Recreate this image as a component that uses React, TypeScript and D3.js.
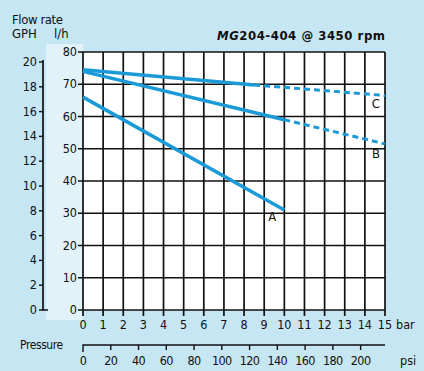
import * as d3 from 'd3'

const BAR_TICKS = [0, 1, 2, 3, 4, 5, 6, 7, 8, 9, 10, 11, 12, 13, 14, 15]
const FLOW_TICKS = [0, 10, 20, 30, 40, 50, 60, 70, 80]
const GPH_TICKS = [0, 2, 4, 6, 8, 10, 12, 14, 16, 18, 20]
const PSI_TICKS = [0, 20, 40, 60, 80, 100, 120, 140, 160, 180, 200]

// [bar, l/h]
const CURVE_A: [number, number][] = [[0, 66], [10, 31]]
const CURVE_B_SOLID: [number, number][] = [[0, 74], [10, 59]]
const CURVE_B_DASH: [number, number][] = [[10, 59], [15, 51.5]]
const CURVE_C_SOLID: [number, number][] = [[0, 74.5], [8.5, 69.8]]
const CURVE_C_DASH: [number, number][] = [[8.5, 69.8], [15, 66.5]]

const LABELS = [
  { name: 'A', at: [9.4, 27.5] },
  { name: 'B', at: [14.55, 47] },
  { name: 'C', at: [14.55, 62.5] },
]

const FONT = "'Liberation Sans Narrow', 'DejaVu Sans Condensed', 'DejaVu Sans', sans-serif"
const BLUE = '#1b9ad8'
const INK = '#111'

function App() {
  const x = d3.scaleLinear().domain([0, 15]).range([83, 385])
  const y = d3.scaleLinear().domain([0, 80]).range([310, 52])
  const gph = d3.scaleLinear().domain([0, 20]).range([310, 62])
  const psi = d3.scaleLinear().domain([0, 15 * 14.5038]).range([83, 385])

  const line = d3
    .line<[number, number]>()
    .x((d) => x(d[0]))
    .y((d) => y(d[1]))

  const [x0, x1] = x.range()
  const [yb, yt] = y.range()

  return (
    <svg
      width={424}
      height={371}
      style={{ position: 'absolute', left: 0, top: 0 }}
      fontFamily={FONT}
    >
      <rect width={424} height={371} fill="#c6e6f3" />
      <rect x={46} y={44} width={37} height={276} fill="#e1f2f9" />
      <rect x={x0} y={yt} width={x1 - x0} height={yb - yt} fill="#ffffff" />

      {/* header */}
      <text x={12} y={24} fontSize={13} fill={INK} letterSpacing={-0.4}>
        Flow rate
      </text>
      <text x={12} y={38} fontSize={13} fill={INK}>
        GPH
      </text>
      <text x={54} y={38} fontSize={13} fill={INK}>
        l/h
      </text>
      <text x={217} y={40} fontSize={13} fontWeight="bold" fill={INK} textLength={168} lengthAdjust="spacing">
        <tspan fontStyle="italic">MG</tspan>204-404 @ 3450 rpm
      </text>

      {/* grid */}
      {BAR_TICKS.map((t) => (
        <line key={'gx' + t} x1={x(t)} x2={x(t)} y1={yt} y2={yb + 6} stroke={INK} strokeWidth={1.7} />
      ))}
      {FLOW_TICKS.map((t) => (
        <line key={'gy' + t} x1={x0 - 5} x2={x1} y1={y(t)} y2={y(t)} stroke={INK} strokeWidth={1.7} />
      ))}

      {/* l/h labels */}
      {FLOW_TICKS.map((t) => (
        <text key={'ly' + t} x={x0 - 6} y={y(t) + 4} fontSize={12.5} textAnchor="end" fill={INK}>
          {t}
        </text>
      ))}

      {/* GPH axis */}
      <path d={`M43,${gph(20) - 2}V${gph(0)}H48`} fill="none" stroke={INK} strokeWidth={1.7} />
      {GPH_TICKS.map((t) => (
        <g key={'gph' + t}>
          <line x1={39} x2={43} y1={gph(t)} y2={gph(t)} stroke={INK} strokeWidth={1.4} />
          <text x={37} y={gph(t) + 4} fontSize={12.5} textAnchor="end" fill={INK}>
            {t}
          </text>
        </g>
      ))}

      {/* bar labels */}
      {BAR_TICKS.map((t) => (
        <text key={'bx' + t} x={x(t)} y={329} fontSize={12.5} textAnchor="middle" fill={INK}>
          {t}
        </text>
      ))}
      <text x={396} y={329} fontSize={12.5} fill={INK}>
        bar
      </text>

      {/* psi axis */}
      <path d={`M${psi(0)},352V345H${x1}`} fill="none" stroke={INK} strokeWidth={1.4} />
      {PSI_TICKS.slice(1).map((t) => (
        <line key={'pt' + t} x1={psi(t)} x2={psi(t)} y1={345} y2={350} stroke={INK} strokeWidth={1.4} />
      ))}
      {PSI_TICKS.map((t) => (
        <text key={'pl' + t} x={psi(t)} y={365} fontSize={12.5} textAnchor="middle" fill={INK} letterSpacing={-0.6}>
          {t}
        </text>
      ))}
      <text x={20} y={349} fontSize={12} fill={INK} letterSpacing={-0.4}>
        Pressure
      </text>
      <text x={400} y={365} fontSize={12.5} fill={INK}>
        psi
      </text>

      {/* curves */}
      <path d={line(CURVE_A) ?? ''} fill="none" stroke={BLUE} strokeWidth={3.5} />
      <path d={line(CURVE_B_SOLID) ?? ''} fill="none" stroke={BLUE} strokeWidth={3.5} />
      <path d={line(CURVE_C_SOLID) ?? ''} fill="none" stroke={BLUE} strokeWidth={3.5} />
      <path d={line(CURVE_B_DASH) ?? ''} fill="none" stroke={BLUE} strokeWidth={3} strokeDasharray="6,4" />
      <path d={line(CURVE_C_DASH) ?? ''} fill="none" stroke={BLUE} strokeWidth={3} strokeDasharray="6,4" />

      {LABELS.map((l) => (
        <text key={l.name} x={x(l.at[0])} y={y(l.at[1])} fontSize={13} textAnchor="middle" fill={INK}>
          {l.name}
        </text>
      ))}
    </svg>
  )
}

export default App
